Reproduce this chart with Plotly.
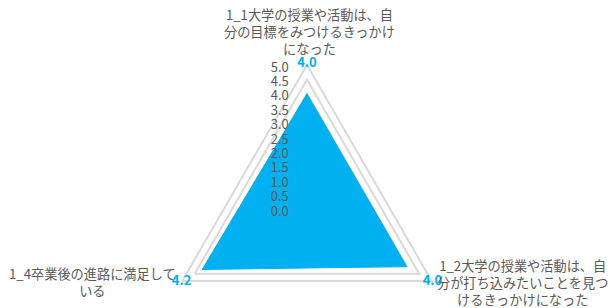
import plotly.graph_objects as go

# ---- data ----
categories = [
    "1_1大学の授業や活動は、自分の目標をみつけるきっかけになった",
    "1_2大学の授業や活動は、自分が打ち込みたいことを見つけるきっかけになった",
    "1_4卒業後の進路に満足している",
]
label_lines = [
    ["1_1大学の授業や活動は、自", "分の目標をみつけるきっかけ", "になった"],
    ["1_2大学の授業や活動は、自", "分が打ち込みたいことを見つ", "けるきっかけになった"],
    ["1_4卒業後の進路に満足して", "いる"],
]
values = [4.0, 4.0, 4.2]
tick_vals = [0.0, 0.5, 1.0, 1.5, 2.0, 2.5, 3.0, 3.5, 4.0, 4.5, 5.0]
tick_text = ["0.0", "0.5", "1.0", "1.5", "2.0", "2.5", "3.0", "3.5", "4.0", "4.5", "5.0"]

# ---- styles / layout ----
W, H = 609, 368
CX, CY, R5 = 307, 209, 144      # centre and pixel radius of the 5.0 ring
R_MAX = 5.3                      # radial range upper bound (frame hidden)
RAD = R5 * R_MAX / 5.0
BLUE = "#00b0f0"
GRID = "#d9d9d9"
TXT = "#595959"
FONT = "Noto Sans CJK JP, Noto Sans, sans-serif"
LABEL_R = 5.03
label_pos = [(309, 32), (522, 282), (92, 282)]


def px_x(x):
    return x / W


def px_y(y):
    return 1 - y / H


fig = go.Figure()
fig.add_trace(go.Scatterpolar(
    r=values + values[:1],
    theta=categories + categories[:1],
    mode="lines",
    fill="toself",
    fillcolor=BLUE,
    line=dict(color=BLUE, width=1),
    hoverinfo="skip",
))
fig.add_trace(go.Scatterpolar(
    r=[LABEL_R] * len(values),
    theta=categories,
    mode="text",
    text=[f"{v:.1f}" for v in values],
    textposition="middle center",
    textfont=dict(color=BLUE, size=13, family=FONT, weight="bold"),
    cliponaxis=False,
    hoverinfo="skip",
))

for (x, y), lines in zip(label_pos, label_lines):
    fig.add_annotation(
        x=px_x(x), y=px_y(y), xref="paper", yref="paper",
        xanchor="center", yanchor="middle", align="center",
        text="<br>".join(lines), showarrow=False,
        font=dict(family=FONT, size=13.2, color=TXT),
    )

fig.update_layout(
    width=W, height=H,
    margin=dict(l=0, r=0, t=0, b=0, pad=0),
    paper_bgcolor="white",
    showlegend=False,
    font=dict(family=FONT, color=TXT, size=13),
    polar=dict(
        domain=dict(x=[px_x(CX - RAD), px_x(CX + RAD)],
                    y=[px_y(CY + RAD), px_y(CY - RAD)]),
        bgcolor="white",
        gridshape="linear",
        radialaxis=dict(
            range=[0, R_MAX], tickvals=tick_vals, ticktext=tick_text,
            angle=90, side="counterclockwise",
            showline=False, ticks="outside", ticklen=6,
            tickcolor="rgba(0,0,0,0)",
            gridcolor=GRID, gridwidth=1.5,
            tickfont=dict(size=13, color=TXT, family=FONT),
            layer="above traces",
        ),
        angularaxis=dict(
            type="category", categoryarray=categories,
            rotation=90, direction="clockwise",
            showticklabels=False, ticks="", showgrid=False,
            showline=False,
        ),
    ),
)

fig.write_html(
    "out.html",
    config={"displayModeBar": False},
    post_script=(
        "document.body.style.margin='0';"
        "document.body.style.overflow='hidden';"
        "document.documentElement.style.overflow='hidden';"
    ),
)
